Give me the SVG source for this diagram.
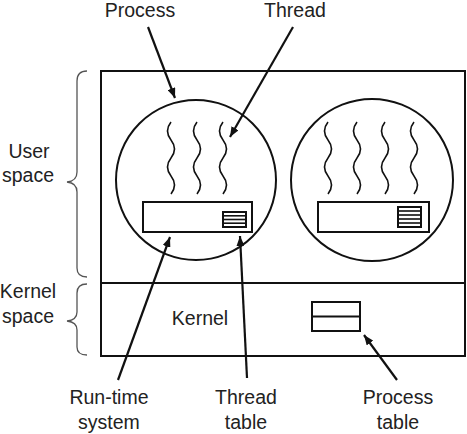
<svg xmlns="http://www.w3.org/2000/svg" width="467" height="434" viewBox="0 0 467 434">
<defs>
<marker id="ah" viewBox="0 0 10 8" refX="10" refY="4" markerWidth="10" markerHeight="8" markerUnits="userSpaceOnUse" orient="auto">
<path d="M0,0 L10,4 L0,8 Z" fill="#111"/>
</marker>
<style>
.t{font-family:"Liberation Sans",Arial,sans-serif;font-size:19.5px;fill:#222;text-anchor:middle}
.s{fill:none;stroke:#111;stroke-width:2}
.w{fill:none;stroke:#111;stroke-width:1.6}
.b{fill:none;stroke:#555;stroke-width:1.3}
.a{fill:none;stroke:#111;stroke-width:2.2;marker-end:url(#ah)}
</style>
</defs>
<rect width="467" height="434" fill="#fff"/>
<g id="machine">
<rect class="s" x="101" y="71" width="364" height="285"/>
<line class="s" x1="101" y1="283" x2="465" y2="283"/>
<text class="t" x="200" y="325">Kernel</text>
</g>
<g id="process-table">
<rect class="s" x="312" y="302" width="48" height="29"/>
<line class="s" x1="312" y1="316.5" x2="360" y2="316.5"/>
</g>
<g id="process1">
<circle class="s" cx="196" cy="180" r="80"/>
<path class="w" d="M171,122 q-7,9 0,18 t0,18 t0,18 t0,18"/>
<path class="w" d="M197,122 q-7,9 0,18 t0,18 t0,18 t0,18"/>
<path class="w" d="M223,122 q-7,9 0,18 t0,18 t0,18 t0,18"/>
<rect class="s" x="143" y="202" width="109" height="30"/>
<rect class="s" x="223" y="212" width="23" height="15"/>
<line class="w" x1="223" y1="215.8" x2="246" y2="215.8"/>
<line class="w" x1="223" y1="219.5" x2="246" y2="219.5"/>
<line class="w" x1="223" y1="223.2" x2="246" y2="223.2"/>
</g>
<g id="process2">
<circle class="s" cx="372" cy="180" r="81"/>
<path class="w" d="M328,122 q-7,9 0,18 t0,18 t0,18 t0,18"/>
<path class="w" d="M357,122 q-7,9 0,18 t0,18 t0,18 t0,18"/>
<path class="w" d="M385,122 q-7,9 0,18 t0,18 t0,18 t0,18"/>
<path class="w" d="M414,122 q-7,9 0,18 t0,18 t0,18 t0,18"/>
<rect class="s" x="318" y="202" width="111" height="30"/>
<rect class="s" x="398" y="207" width="23" height="20"/>
<line class="w" x1="398" y1="211" x2="421" y2="211"/>
<line class="w" x1="398" y1="215" x2="421" y2="215"/>
<line class="w" x1="398" y1="219" x2="421" y2="219"/>
<line class="w" x1="398" y1="223" x2="421" y2="223"/>
</g>
<g id="braces">
<path class="b" d="M87,71 Q77,71 77,81 L77,172 Q77,181 67,182 Q77,183 77,192 L77,268 Q77,277 87,277"/>
<path class="b" d="M87,284 Q77,284 77,293 L77,312 Q77,320 67,321 Q77,322 77,330 L77,347 Q77,355 87,355"/>
</g>
<g id="labels">
<text class="t" x="140" y="17">Process</text>
<text class="t" x="295" y="17">Thread</text>
<text class="t" x="29" y="158">User</text>
<text class="t" x="28" y="182">space</text>
<text class="t" x="28" y="298">Kernel</text>
<text class="t" x="28" y="323">space</text>
<text class="t" x="109" y="404">Run-time</text>
<text class="t" x="109" y="429">system</text>
<text class="t" x="246" y="404">Thread</text>
<text class="t" x="246" y="429">table</text>
<text class="t" x="398" y="404">Process</text>
<text class="t" x="398" y="429">table</text>
</g>
<g id="connectors">
<line class="a" x1="148" y1="27" x2="175" y2="98"/>
<line class="a" x1="293" y1="27" x2="230" y2="137"/>
<line class="a" x1="118" y1="380" x2="170" y2="237"/>
<line class="a" x1="247" y1="378" x2="240" y2="236"/>
<line class="a" x1="397" y1="380" x2="364" y2="335"/>
</g>
</svg>
